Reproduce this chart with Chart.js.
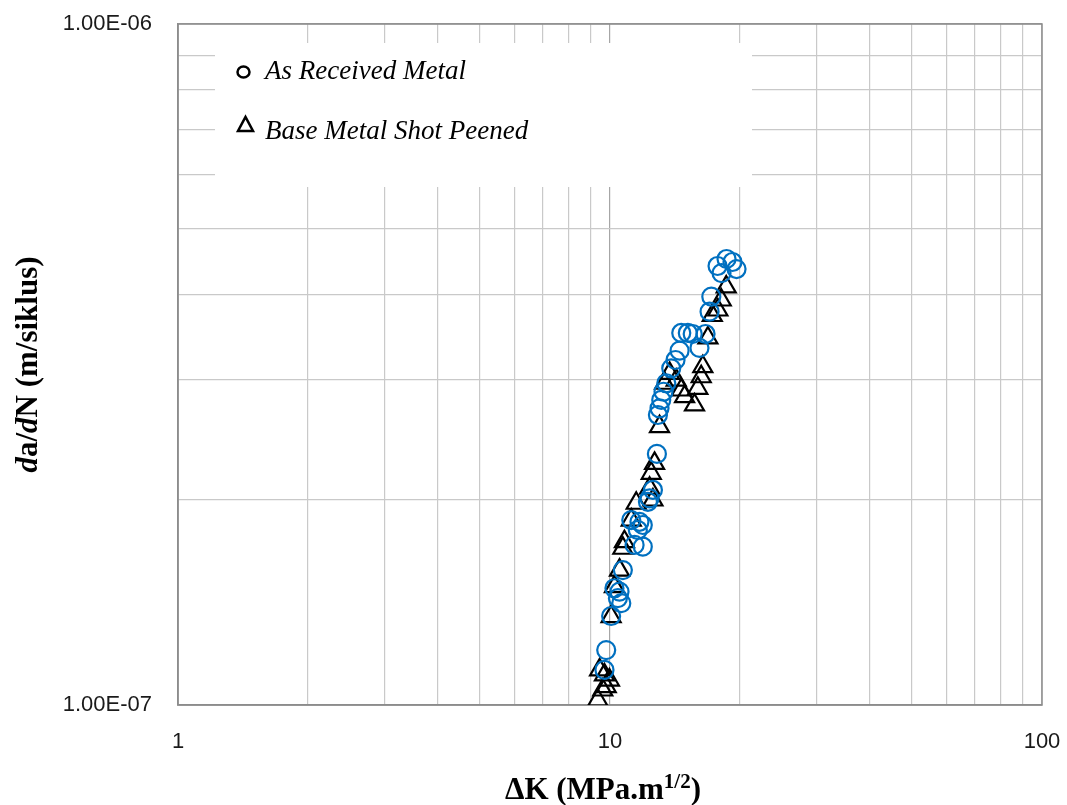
<!DOCTYPE html>
<html lang="en">
<head>
    <meta charset="UTF-8">
    <title>da/dN vs ΔK</title>
    <script src="https://cdn.jsdelivr.net/npm/chart.js"></script>
    <style>
        body {
            margin: 0;
            background: #ffffff;
        }
        #chart {
            display: block;
        }
    </style>
</head>
<body>
    <canvas id="chart" width="1067" height="805"></canvas>
    <script>
        // As Received Metal (blue circles)
        const arDeltaK = [9.71, 9.80, 10.06, 10.43, 10.62, 10.52, 10.24, 10.71, 11.40, 11.91,
            11.60, 11.20, 11.70, 11.91, 12.24, 12.35, 12.57, 12.84, 12.91, 13.02,
            13.14, 13.30, 13.50, 13.86, 14.18, 14.49, 14.62, 15.14, 15.54, 16.64,
            16.11, 17.00, 17.16, 17.74, 18.61, 19.21, 19.63, 18.12];
        const arDadN = [1.126e-7, 1.204e-7, 1.351e-7, 1.435e-7, 1.411e-7, 1.467e-7, 1.484e-7, 1.578e-7, 1.718e-7, 1.708e-7,
            1.807e-7, 1.869e-7, 1.858e-7, 1.838e-7, 1.988e-7, 2.011e-7, 2.069e-7, 2.337e-7, 2.666e-7, 2.727e-7,
            2.805e-7, 2.884e-7, 2.968e-7, 3.122e-7, 3.211e-7, 3.314e-7, 3.518e-7, 3.518e-7, 3.506e-7, 3.506e-7,
            3.344e-7, 3.781e-7, 3.977e-7, 4.412e-7, 4.518e-7, 4.472e-7, 4.367e-7, 4.308e-7];

        // Base Metal Shot Peened (black triangles)
        const spDeltaK = [9.37, 9.62, 9.80, 9.97, 9.71, 9.46, 10.06, 10.24, 10.52, 10.71,
            10.80, 11.20, 11.50, 12.57, 12.35, 12.46, 12.68, 13.02, 13.38, 13.74,
            14.23, 14.62, 14.88, 15.69, 15.97, 16.26, 16.40, 16.85, 17.25, 17.77,
            18.09, 18.58];
        const spDadN = [1.017e-7, 1.052e-7, 1.064e-7, 1.088e-7, 1.107e-7, 1.126e-7, 1.348e-7, 1.492e-7, 1.578e-7, 1.699e-7,
            1.737e-7, 1.869e-7, 1.978e-7, 2.000e-7, 2.081e-7, 2.189e-7, 2.264e-7, 2.563e-7, 2.968e-7, 3.069e-7,
            3.000e-7, 2.901e-7, 2.836e-7, 2.758e-7, 2.918e-7, 3.034e-7, 3.139e-7, 3.459e-7, 3.732e-7, 3.802e-7,
            3.933e-7, 4.110e-7];

        // grid / tick values and their labels
        const xGridValues = [1, 2, 3, 4, 5, 6, 7, 8, 9, 10, 20, 30, 40, 50, 60, 70, 80, 90, 100];
        const yGridValues = [1e-7, 2e-7, 3e-7, 4e-7, 5e-7, 6e-7, 7e-7, 8e-7, 9e-7, 1e-6];
        const xTickValues = [1, 10, 100];
        const xTickText = ['1', '10', '100'];
        const yTickValues = [1e-7, 1e-6];
        const yTickText = ['1.00E-07', '1.00E-06'];

        const seriesNames = ['As Received Metal', 'Base Metal Shot Peened'];

        function toPoints(xs, ys) {
            return xs.map((x, i) => ({ x: x, y: ys[i] }));
        }

        function labelFor(value, values, texts) {
            for (let i = 0; i < values.length; i++) {
                if (Math.abs(Math.log10(value) - Math.log10(values[i])) < 1e-6) return texts[i];
            }
            return '';
        }

        function isDecade(value) {
            const l = Math.log10(value);
            return Math.abs(l - Math.round(l)) < 1e-6;
        }

        // frame, legend box and axis titles (Excel-like)
        const decorPlugin = {
            id: 'decor',
            beforeDatasetsDraw(chart) {
                const ctx = chart.ctx;
                const a = chart.chartArea;
                ctx.save();
                // frame
                ctx.strokeStyle = '#8c8c8c';
                ctx.lineWidth = 1.5;
                ctx.strokeRect(a.left, a.top, a.right - a.left, a.bottom - a.top);

                // legend box (white, hides grid)
                const lx = a.left + 37, ly = a.top + 19;
                ctx.fillStyle = '#ffffff';
                ctx.fillRect(lx, ly, 537, 144);

                ctx.strokeStyle = '#000000';
                ctx.lineWidth = 2.5;
                ctx.beginPath();
                ctx.ellipse(lx + 28.5, ly + 29, 6, 5.6, 0, 0, Math.PI * 2);
                ctx.stroke();
                ctx.beginPath();
                ctx.moveTo(lx + 23, ly + 88);
                ctx.lineTo(lx + 38, ly + 88);
                ctx.lineTo(lx + 30.5, ly + 74);
                ctx.closePath();
                ctx.stroke();

                ctx.fillStyle = '#000000';
                ctx.font = 'italic 27px "Liberation Serif", "Times New Roman", serif';
                ctx.textBaseline = 'alphabetic';
                ctx.textAlign = 'left';
                ctx.fillText(seriesNames[0], lx + 50, ly + 36);
                ctx.fillText(seriesNames[1], lx + 50, ly + 96);
                ctx.restore();
            },
            afterDraw(chart) {
                const ctx = chart.ctx;
                const a = chart.chartArea;
                ctx.save();
                ctx.fillStyle = '#000000';
                ctx.textBaseline = 'alphabetic';
                ctx.textAlign = 'left';

                // x title: ΔK (MPa.m^1/2)
                const bold = 'bold 31px "Liberation Serif", "Times New Roman", serif';
                const boldItalic = 'italic bold 31px "Liberation Serif", "Times New Roman", serif';
                const sup = 'bold 21px "Liberation Serif", "Times New Roman", serif';
                const p1 = 'ΔK (MPa.m', p2 = '1/2', p3 = ')';
                ctx.font = bold;
                const w1 = ctx.measureText(p1).width, w3 = ctx.measureText(p3).width;
                ctx.font = sup;
                const w2 = ctx.measureText(p2).width;
                let x = (a.left + a.right) / 2 - 7 - (w1 + w2 + w3) / 2;
                const base = 799;
                ctx.font = bold;
                ctx.fillText(p1, x, base);
                x += w1;
                ctx.font = sup;
                ctx.fillText(p2, x, base - 11);
                x += w2;
                ctx.font = bold;
                ctx.fillText(p3, x, base);

                // y title: da/dN (m/siklus), rotated
                const parts = [
                    ['d', boldItalic],
                    ['a/', bold],
                    ['d', boldItalic],
                    ['N (m/siklus)', bold]
                ];
                let total = 0;
                parts.forEach(p => { ctx.font = p[1]; total += ctx.measureText(p[0]).width; });
                ctx.translate(37, (a.top + a.bottom) / 2);
                ctx.rotate(-Math.PI / 2);
                let tx = -total / 2;
                parts.forEach(p => {
                    ctx.font = p[1];
                    ctx.fillText(p[0], tx, 0);
                    tx += ctx.measureText(p[0]).width;
                });
                ctx.restore();
            }
        };

        const ctxChart = document.getElementById('chart').getContext('2d');
        const chart = new Chart(ctxChart, {
            type: 'scatter',
            data: {
                datasets: [{
                    label: seriesNames[0],
                    data: toPoints(arDeltaK, arDadN),
                    pointStyle: 'circle',
                    radius: 9,
                    borderWidth: 2.2,
                    borderColor: '#0070C0',
                    backgroundColor: 'rgba(0,0,0,0)'
                }, {
                    label: seriesNames[1],
                    data: toPoints(spDeltaK, spDadN),
                    pointStyle: 'triangle',
                    radius: 11,
                    borderWidth: 2.2,
                    borderColor: '#000000',
                    backgroundColor: 'rgba(0,0,0,0)'
                }]
            },
            options: {
                responsive: false,
                animation: false,
                devicePixelRatio: 1,
                events: [],
                layout: {
                    padding: { left: 0, right: 25, top: 24, bottom: 0 }
                },
                plugins: {
                    legend: { display: false },
                    tooltip: { enabled: false }
                },
                scales: {
                    x: {
                        type: 'logarithmic',
                        min: 1,
                        max: 100,
                        afterBuildTicks(scale) { scale.ticks = xGridValues.map(v => ({ value: v })); },
                        afterFit(scale) {
                            scale.height = 100;
                            scale.paddingLeft = 0;
                            scale.paddingRight = 0;
                        },
                        grid: {
                            color: ctx => (ctx.tick && ctx.tick.value === 10) ? '#a6a6a6' : '#c9c9c9',
                            lineWidth: 1.2,
                            drawTicks: false
                        },
                        border: { color: '#8c8c8c', width: 1.5 },
                        ticks: {
                            autoSkip: false,
                            maxRotation: 0,
                            padding: 24,
                            color: '#1a1a1a',
                            font: { family: '"Liberation Sans", Arial, sans-serif', size: 22 },
                            callback: value => labelFor(value, xTickValues, xTickText)
                        }
                    },
                    y: {
                        type: 'logarithmic',
                        min: 1e-7,
                        max: 1e-6,
                        afterBuildTicks(scale) { scale.ticks = yGridValues.map(v => ({ value: v })); },
                        afterFit(scale) {
                            scale.width = 178;
                            scale.paddingTop = 0;
                            scale.paddingBottom = 0;
                        },
                        grid: {
                            color: ctx => (ctx.tick && isDecade(ctx.tick.value)) ? '#a6a6a6' : '#c9c9c9',
                            lineWidth: 1.2,
                            drawTicks: false
                        },
                        border: { color: '#8c8c8c', width: 1.5 },
                        ticks: {
                            autoSkip: false,
                            padding: 26,
                            color: '#1a1a1a',
                            font: { family: '"Liberation Sans", Arial, sans-serif', size: 22 },
                            callback: value => labelFor(value, yTickValues, yTickText)
                        }
                    }
                }
            },
            plugins: [decorPlugin]
        });
    </script>
</body>
</html>
